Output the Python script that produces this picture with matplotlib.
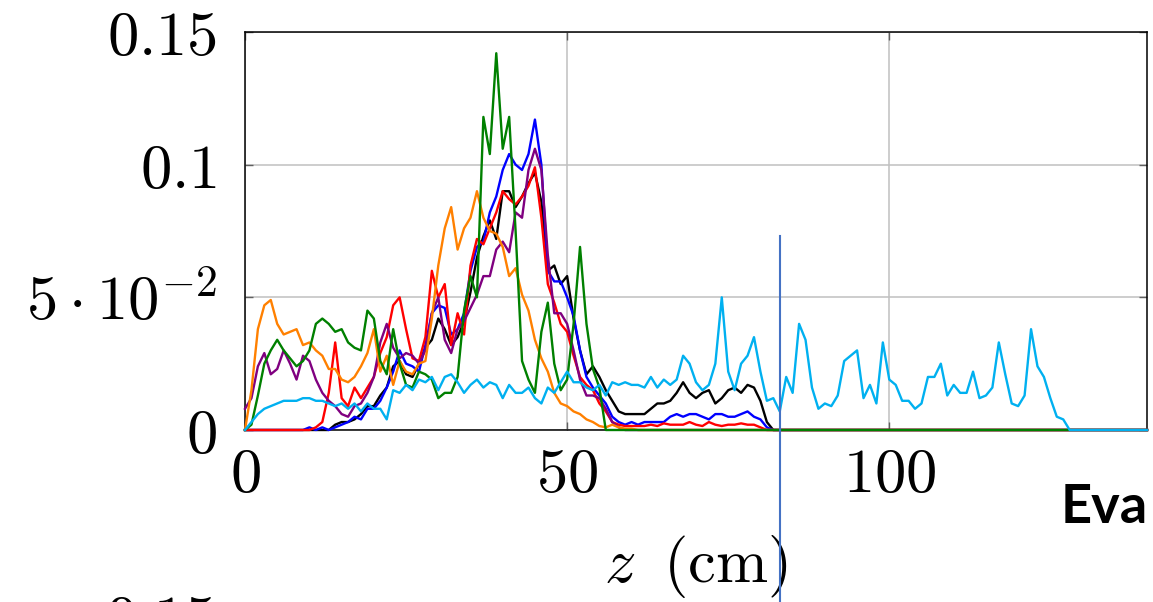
import numpy as np
import matplotlib
matplotlib.use("Agg")
import matplotlib.pyplot as plt

# values in units of 1e-3, sampled every 1 cm starting at z = 0
black = [0, 0, 0, 0, 0, 0, 0, 0, 0, 0,
         0, 0, 0, 0, 2, 3, 3, 4, 6, 9,
         9, 13, 16, 24, 26, 21, 20, 25, 31, 34,
         42, 38, 32, 35, 41, 52, 65, 73, 79, 72,
         90, 90, 84, 88, 93, 97, 86, 60, 62, 55,
         58, 42, 30, 21, 24, 20, 15, 11, 7, 6,
         6, 6, 6, 8, 10, 10, 11, 14, 18, 14,
         12, 14, 15, 10, 12, 15, 16, 14, 17, 16,
         11, 3, 0]
blue = [0, 0, 0, 0, 0, 0, 0, 0, 0, 0,
        1, 0, 1, 0, 1, 2, 3, 5, 4, 8,
        8, 11, 16, 22, 30, 25, 24, 22, 32, 44,
        47, 46, 36, 38, 44, 60, 69, 71, 82, 88,
        98, 104, 100, 98, 104, 117, 100, 60, 56, 56,
        50, 43, 30, 20, 16, 13, 10, 5, 3, 2,
        3, 2, 3, 3, 3, 3, 5, 6, 5, 6,
        6, 5, 4, 6, 6, 5, 5, 6, 7, 5,
        4, 1, 0]
red = [0, 0, 0, 0, 0, 0, 0, 0, 0, 0,
       0, 1, 3, 14, 33, 12, 9, 16, 12, 16,
       20, 29, 35, 47, 50, 38, 27, 26, 35, 60,
       50, 55, 32, 44, 36, 62, 72, 70, 76, 82,
       90, 87, 85, 88, 92, 99, 80, 55, 48, 40,
       37, 28, 20, 17, 15, 10, 7, 3, 2, 1.5,
       1.5, 1.5, 1.5, 2, 1.5, 2.5, 2, 2, 2, 3,
       2, 1.5, 3, 2, 1.5, 2, 2, 2.5, 2, 2,
       1, 0]
purple = [8, 12, 24, 29, 21, 23, 30, 25, 19, 28,
          26, 19, 14, 11, 9, 6, 5, 9, 10, 14,
          20, 33, 40, 31, 27, 29, 28, 25, 30, 44,
          50, 34, 29, 38, 41, 46, 51, 58, 58, 68,
          71, 67, 82, 80, 98, 106, 98, 66, 44, 44,
          40, 30, 19, 13, 13, 12, 8, 3, 1, 0]
orange = [0, 15, 38, 47, 49, 40, 36, 37, 38, 32,
          33, 30, 28, 23, 23, 19, 18, 20, 24, 29,
          38, 22, 28, 17, 26, 22, 21, 25, 26, 42,
          62, 76, 84, 68, 76, 80, 90, 80, 75, 74,
          69, 58, 61, 51, 45, 34, 27, 22, 14, 10,
          9, 7, 6, 4, 3, 1.5, 1, 2, 1, 0.5,
          0.5, 0]
green = [0, 2, 13, 25, 30, 34, 30, 27, 24, 26,
         30, 40, 42, 40, 37, 38, 33, 31, 30, 45,
         42, 26, 21, 38, 25, 17, 16, 22, 21, 19,
         12, 14, 14, 20, 45, 58, 50, 118, 104, 142,
         106, 118, 75, 26, 19, 14, 37, 48, 25, 15,
         19, 40, 69, 40, 23, 16, 0]
cyan = [0, 3, 6, 8, 9, 10, 11, 11, 11, 12,
        12, 11, 11, 10, 9, 10, 8, 10, 7, 10,
        8, 8, 4, 15, 14, 17, 15, 19, 18, 20,
        15, 20, 21, 18, 14, 17, 19, 16, 18, 17,
        12, 17, 14, 14, 16, 12, 10, 16, 14, 18,
        22, 18, 18, 16, 15, 17, 13, 18, 17, 18,
        17, 17, 16, 20, 16, 19, 17, 19, 28, 25,
        18, 15, 17, 25, 50, 22, 15, 25, 28, 35,
        22, 11, 12, 7, 20, 14, 40, 34, 16, 8,
        10, 9, 13, 26, 28, 30, 12, 17, 10, 33,
        19, 17, 11, 11, 8, 10, 20, 20, 25, 13,
        17, 14, 14, 22, 12, 13, 16, 33, 21, 10,
        9, 13, 38, 24, 20, 12, 5, 4, 0]

z_end = 140
marker_z = 83.1
marker_top = 0.073

plt.rcParams["mathtext.fontset"] = "cm"

fig = plt.figure(figsize=(11.53, 6.02), dpi=100)
ax = fig.add_axes([245 / 1153, 1 - 430 / 602, 902 / 1153, 398 / 602])

series = [
    (black, "black"),
    (blue, "#0000ff"),
    (red, "#ff0000"),
    (purple, "#800080"),
    (orange, "#ff8000"),
    (green, "#008000"),
    (cyan, "#00b0f0"),
]
for vals, color in series:
    z = np.append(np.arange(len(vals)), z_end)
    y = np.append(np.array(vals, dtype=float), 0) * 1e-3
    ax.plot(z, y, color=color, lw=1.7, zorder=3, clip_on=False)

ax.set_xlim(0, 140)
ax.set_ylim(0, 0.15)
ax.set_xticks([0, 50, 100])
ax.set_xticklabels(["$0$", "$50$", "$100$"])
ax.set_yticks([0, 0.05, 0.1, 0.15])
ax.set_yticklabels(["$0$", r"$5\cdot10^{-2}$", "$0.1$", "$0.15$"])
ax.grid(True, color="#c0c0c0", lw=1.1)
ax.set_axisbelow(True)
ax.tick_params(direction="in", length=6, width=1, color="#606060",
               top=True, right=True, labelsize=45)
ax.tick_params(axis="y", pad=20)
ax.tick_params(axis="x", pad=11)
for s in ax.spines.values():
    s.set_linewidth(1.1)

ax.set_xlabel(r"$z\;\;(\mathrm{cm})$", fontsize=45, labelpad=20)

# overlay marker line running off the bottom of the figure
ax.plot([marker_z, marker_z], [marker_top, -0.08], color="#4472c4",
        lw=1.5, clip_on=False, zorder=5)

fig.text(1061 / 1153, 1 - 523 / 602, "Eva", fontfamily="Lato",
         fontweight="bold", fontsize=39, va="baseline", ha="left")
# top of the next panel's tick label, cut by the figure edge
fig.text(215 / 1153, 1 - 592 / 602, "$0.15$", ha="right", va="top",
         fontsize=45)

fig.savefig("out.png", dpi=100)
